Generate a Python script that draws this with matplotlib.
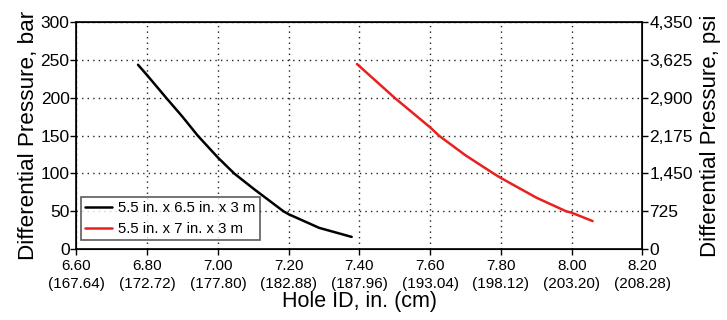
import matplotlib
matplotlib.use("Agg")
import matplotlib.pyplot as plt

plt.rcParams['font.family'] = ['Liberation Sans', 'DejaVu Sans']

# Hole ID (in.) vs differential pressure (bar)
hole_a = [6.774, 6.80, 6.854, 6.90, 6.943, 7.00, 7.046, 7.10, 7.185, 7.20, 7.286, 7.378]
dp_a = [244, 230, 200, 175, 150, 121, 100, 80, 50, 46, 28, 16]
hole_b = [7.393, 7.50, 7.60, 7.625, 7.70, 7.779, 7.80, 7.90, 7.984, 8.00, 8.059]
dp_b = [245, 200, 161, 150, 124, 100, 94, 68, 50, 48, 37]
label_a = "5.5 in. x 6.5 in. x 3 m"
label_b = "5.5 in. x 7 in. x 3 m"

x_ticks = [6.60, 6.80, 7.00, 7.20, 7.40, 7.60, 7.80, 8.00, 8.20]
x_labels = ["6.60\n(167.64)", "6.80\n(172.72)", "7.00\n(177.80)", "7.20\n(182.88)",
            "7.40\n(187.96)", "7.60\n(193.04)", "7.80\n(198.12)", "8.00\n(203.20)",
            "8.20\n(208.28)"]
bar_ticks = [0, 50, 100, 150, 200, 250, 300]
psi_labels = ["0", "725", "1,450", "2,175", "2,900", "3,625", "4,350"]

fig = plt.figure(figsize=(7.27, 3.2), dpi=100)
ax = fig.add_axes([0.1052, 0.2219, 0.7785, 0.7078])

ax.plot(hole_a, dp_a, color='black', lw=1.8, label=label_a,
        solid_joinstyle='round', solid_capstyle='round')
ax.plot(hole_b, dp_b, color='#e8201e', lw=1.8, label=label_b,
        solid_joinstyle='round', solid_capstyle='round')

ax.set_xlim(6.6, 8.2)
ax.set_ylim(0, 300)
ax.set_xticks(x_ticks)
ax.set_xticklabels(x_labels, fontsize=11, linespacing=1.35)
ax.set_yticks(bar_ticks)
ax.set_yticklabels([str(v) for v in bar_ticks], fontsize=12.5)
ax.grid(True, color='#222222', linestyle=(0, (1, 3)), lw=1.0)
ax.tick_params(direction='out', length=4, width=1, pad=1, colors='black')
ax.tick_params(axis='x', pad=3)
for s in ax.spines.values():
    s.set_linewidth(1.2)

ax.set_xlabel("Hole ID, in. (cm)", fontsize=15.5, labelpad=0)
ax.set_ylabel("Differential Pressure, bar", fontsize=16.2, labelpad=1)

ax2 = ax.twinx()
ax2.set_ylim(0, 300)
ax2.set_yticks(bar_ticks)
ax2.set_yticklabels(psi_labels, fontsize=12.5)
ax2.tick_params(direction='out', length=4, width=1, pad=1)
ax2.set_ylabel("Differential Pressure, psi", fontsize=16, labelpad=5)

leg = ax.legend(loc='lower left', bbox_to_anchor=(0.0, 0.018), fontsize=10.7,
                frameon=True, fancybox=False, edgecolor='#333333',
                handlelength=1.8, handletextpad=0.4, borderpad=0.3,
                labelspacing=0.45, borderaxespad=0.3)
leg.get_frame().set_linewidth(1.2)

fig.savefig("out.png", dpi=100)
